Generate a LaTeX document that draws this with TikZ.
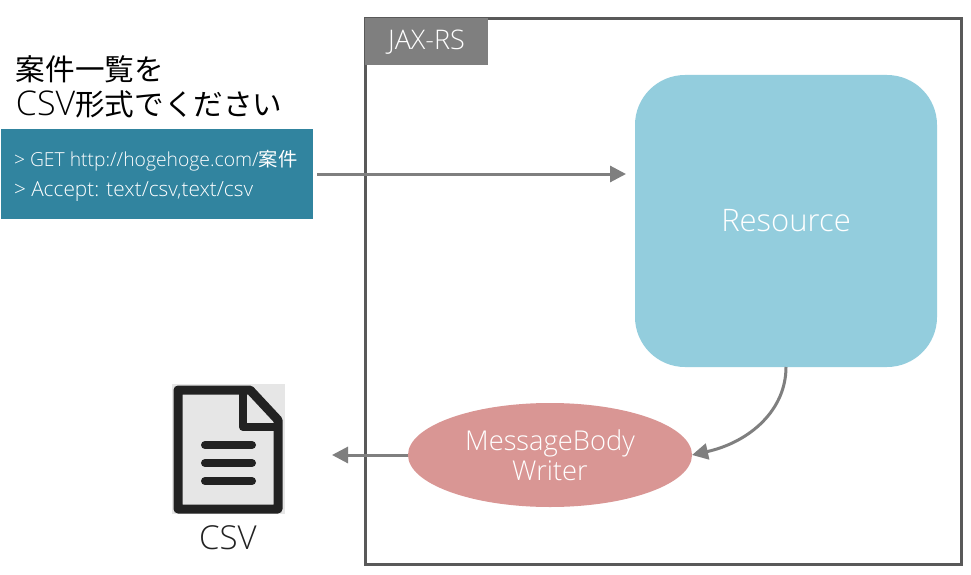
\documentclass[tikz,border=0pt]{standalone}
\usepackage{fontspec}
\setmainfont{Open Sans}[UprightFont=* Light]
\newfontfamily\cjk{Noto Sans CJK JP}
\usetikzlibrary{arrows.meta,shapes.geometric}
\newcommand{\fs}[1]{\fontsize{#1}{#1}\selectfont}
\definecolor{frameC}{HTML}{595959}
\definecolor{tagC}{HTML}{7F7F7F}
\definecolor{reqC}{HTML}{31849F}
\definecolor{resC}{HTML}{93CDDD}
\definecolor{msgC}{HTML}{D99694}
\definecolor{inkC}{HTML}{222222}
\definecolor{iconBg}{HTML}{E6E6E6}
\tikzset{
  x=1pt,y=-1pt,
  flow/.style={draw=tagC,line width=3pt,-{Triangle[length=16pt,width=16pt]}},
  plain/.style={inner sep=0pt,outer sep=0pt},
  icon/.style={draw=inkC,line width=9pt,line join=round,line cap=round},
}
\begin{document}
\begin{tikzpicture}
\useasboundingbox (0,0) rectangle (971,575);
\fill[white] (0,0) rectangle (971,575);
% frame
\node[plain,draw=frameC,line width=3pt,minimum width=596pt,minimum height=546pt] (frame) at (663.5,291.5) {};
\node[plain,fill=tagC,text=white,minimum width=123pt,minimum height=47pt] (tag) at (426.5,42) {\fs{27}JAX-RS};
% request
\node[plain,anchor=west,align=left] (title) at (16,87) {\fs{29.6}\cjk 案件一覧を\\[7pt]{\fs{34}\rmfamily CSV}\fs{29.6}\cjk 形式でください};
\node[plain,fill=reqC,minimum width=312pt,minimum height=90pt] (req) at (157,174) {};
\node[plain,anchor=west,text=white] (reqa) at (14,161) {\fs{19.3}> GET http://hogehoge.com/{\cjk 案件}};
\node[plain,anchor=west,text=white] (reqb) at (14,191.5) {\fs{20.8}> Accept: text/csv,text/csv};
% resource
\node[plain,fill=resC,rounded corners=50pt,minimum width=302pt,minimum height=292pt,text=white] (res) at (786,221) {\fs{31}Resource};
% writer
\node[plain,fill=msgC,shape=ellipse,minimum width=284pt,minimum height=104pt,text=white,align=center] (msg) at (550,455) {\fs{27.3}MessageBody\\[3pt]\fs{27.3}Writer};
% icon
\node[plain,fill=iconBg,minimum width=113pt,minimum height=130pt] (iconbg) at (228.5,449) {};
\draw[icon] (178,390) -- (250,390) -- (278,420) -- (278,509) -- (178,509) -- cycle;
\draw[icon,line width=8pt] (243,392) -- (243,427) -- (276,427);
\foreach \yy in {445,463,481}{\draw[icon,line width=8pt] (205,\yy) -- (252,\yy);}
\node[plain,text=inkC] (csv) at (228,538) {\fs{33}CSV};
% connectors
\coordinate (back) at (332,455);
\draw[flow,shorten <=4pt,shorten >=9pt] (req.east) -- (req.east -| res.west);
\draw[flow] (res.south) .. controls (786,410) and (750,442) .. (msg.east);
\draw[flow] (msg.west) -- (back);
\end{tikzpicture}
\end{document}
